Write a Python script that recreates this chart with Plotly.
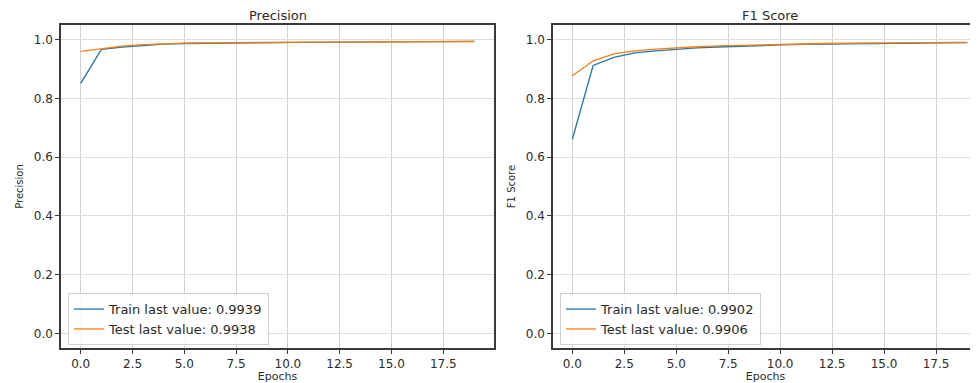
import plotly.graph_objects as go

epochs = list(range(20))

precision_train = [0.851, 0.967, 0.975, 0.981, 0.985, 0.987, 0.988, 0.989, 0.990, 0.990,
                   0.991, 0.991, 0.992, 0.992, 0.992, 0.993, 0.993, 0.993, 0.9935, 0.9939]
precision_test = [0.960, 0.968, 0.978, 0.983, 0.986, 0.988, 0.989, 0.990, 0.990, 0.991,
                  0.991, 0.992, 0.992, 0.992, 0.993, 0.993, 0.993, 0.9935, 0.9937, 0.9938]

f1_train = [0.661, 0.912, 0.940, 0.955, 0.962, 0.968, 0.972, 0.975, 0.978, 0.980,
            0.982, 0.984, 0.985, 0.986, 0.987, 0.988, 0.988, 0.989, 0.990, 0.9902]
f1_test = [0.877, 0.928, 0.952, 0.962, 0.968, 0.973, 0.976, 0.979, 0.981, 0.983,
           0.985, 0.986, 0.987, 0.988, 0.989, 0.989, 0.990, 0.990, 0.9904, 0.9906]

x_tickvals = [0, 2.5, 5, 7.5, 10, 12.5, 15, 17.5]
x_ticktext = ["0.0", "2.5", "5.0", "7.5", "10.0", "12.5", "15.0", "17.5"]
y_tickvals = [0.0, 0.2, 0.4, 0.6, 0.8, 1.0]

titles = ["Precision", "F1 Score"]

BLUE = "#1f77b4"
ORANGE = "#ff7f0e"
FONT = "DejaVu Sans"
TXT = "#2b2b2b"

# page body has an 8px margin; figure drawn at (8, 8)
W, H = 970, 375
fig = go.Figure()

fig.add_trace(go.Scatter(x=epochs, y=precision_train, mode="lines",
                         line=dict(color=BLUE, width=1.3),
                         name=f"Train last value: {precision_train[-1]:.4f}",
                         xaxis="x", yaxis="y", legend="legend"))
fig.add_trace(go.Scatter(x=epochs, y=precision_test, mode="lines",
                         line=dict(color=ORANGE, width=1.3),
                         name=f"Test last value: {precision_test[-1]:.4f}",
                         xaxis="x", yaxis="y", legend="legend"))
fig.add_trace(go.Scatter(x=epochs, y=f1_train, mode="lines",
                         line=dict(color=BLUE, width=1.3),
                         name=f"Train last value: {f1_train[-1]:.4f}",
                         xaxis="x2", yaxis="y2", legend="legend2"))
fig.add_trace(go.Scatter(x=epochs, y=f1_test, mode="lines",
                         line=dict(color=ORANGE, width=1.3),
                         name=f"Test last value: {f1_test[-1]:.4f}",
                         xaxis="x2", yaxis="y2", legend="legend2"))

left_dom = [53 / W, 486 / W]
right_dom = [545 / W, 1.0]

common_x = dict(tickvals=x_tickvals, ticktext=x_ticktext, showgrid=True,
                gridcolor="#d0d0d0", gridwidth=1, showline=True, linecolor="#3a3a3a",
                linewidth=1.5, ticks="outside", ticklen=4, tickcolor="#3a3a3a",
                zeroline=False, tickfont=dict(family=FONT, size=12, color=TXT),
                title=dict(text="Epochs", font=dict(family=FONT, size=11, color=TXT),
                           standoff=4))
common_y = dict(tickvals=y_tickvals, tickformat=".1f", range=[-0.05, 1.05],
                showgrid=True, gridcolor="#dcdcdc", gridwidth=1, showline=True,
                linecolor="#3a3a3a", linewidth=1.5, ticks="outside", ticklen=4,
                tickcolor="#3a3a3a", zeroline=False,
                tickfont=dict(family=FONT, size=12, color=TXT))

fig.update_layout(
    width=W, height=H,
    margin=dict(l=0, r=0, t=17, b=33),
    paper_bgcolor="white", plot_bgcolor="white",
    xaxis=dict(domain=left_dom, range=[-0.95, 19.95], mirror=True, anchor="y", **common_x),
    yaxis=dict(domain=[0, 1], mirror=True, anchor="x",
               title=dict(text="Precision", font=dict(family=FONT, size=10, color=TXT), standoff=8),
               **common_y),
    xaxis2=dict(domain=right_dom, range=[-0.93, 19.52], mirror=True, anchor="y2", **common_x),
    yaxis2=dict(domain=[0, 1], mirror=False, anchor="x2",
                title=dict(text="F1 Score", font=dict(family=FONT, size=10, color=TXT), standoff=8),
                **common_y),
    legend=dict(x=60 / W, y=0.009, xanchor="left", yanchor="bottom",
                bgcolor="rgba(255,255,255,0.85)", bordercolor="#d0d0d0", borderwidth=1,
                font=dict(family=FONT, size=13, color=TXT), tracegroupgap=0,
                itemwidth=30),
    legend2=dict(x=552 / W, y=0.009, xanchor="left", yanchor="bottom",
                 bgcolor="rgba(255,255,255,0.85)", bordercolor="#d0d0d0", borderwidth=1,
                 font=dict(family=FONT, size=13, color=TXT), tracegroupgap=0,
                 itemwidth=30),
    showlegend=True,
)

centers = [(53 + 486) / 2 / W, 762 / W]
for t, cx in zip(titles, centers):
    fig.add_annotation(text=t, x=cx, y=1, xref="paper", yref="paper",
                       xanchor="center", yanchor="middle", yshift=10, showarrow=False,
                       borderpad=0, font=dict(family=FONT, size=13, color=TXT))

fig.write_html("out.html")
